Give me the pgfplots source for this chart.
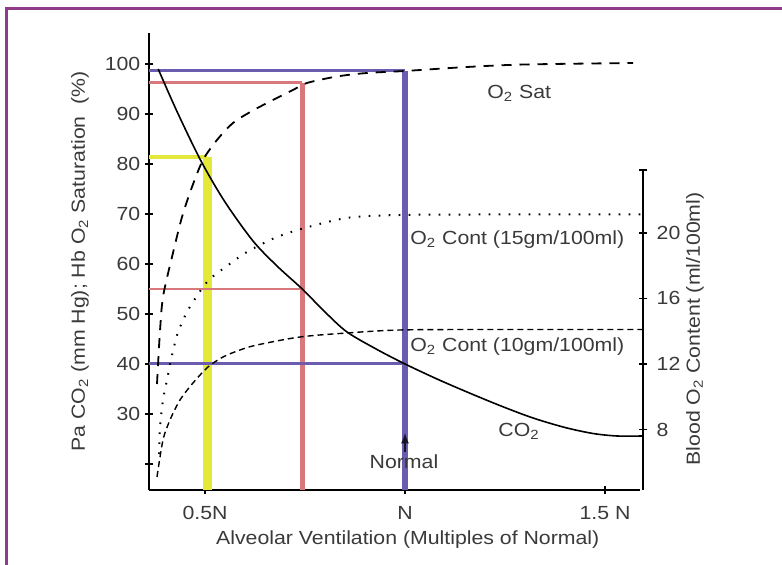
\documentclass[border=0pt]{standalone}
\usepackage{fontspec}
\setmainfont{Liberation Sans}[FakeStretch=1.12]
\usepackage{pgfplots}
\pgfplotsset{compat=1.18}
\definecolor{framec}{HTML}{8E3B8C}
\definecolor{ylw}{HTML}{E4E83A}
\definecolor{rd}{HTML}{D8777C}
\definecolor{pur}{HTML}{6B5CB0}
\definecolor{txt}{HTML}{3A3A3A}
\begin{document}
\fontsize{9.5}{11}\selectfont
\begin{tikzpicture}
\useasboundingbox (0,0) rectangle (391pt,282.5pt);
\draw[framec, line width=1.5pt] (3pt,-1pt) -- (3pt,278pt) -- (392pt,278pt);
\begin{axis}[
  scale only axis, width=245.5pt, height=228.5pt,
  at={(74.5pt,37.5pt)}, anchor=south west,
  xmin=0.36, xmax=1.5875, ymin=14.8, ymax=106.2,
  axis x line*=bottom, axis y line*=left,
  axis line style={line width=1.4pt,-},
  tick align=center, major tick length=4pt,
  tick style={line width=0.8pt, black},
  xtick={0.5,1,1.5}, xticklabels={0.5N,N,1.5 N},
  ytick={20,30,40,50,60,70,80,90,100}, yticklabels={,30,40,50,60,70,80,90,100},
  xticklabel style={text=txt, yshift=-3pt},
  yticklabel style={text=txt, xshift=1pt},
  xlabel={Alveolar Ventilation (Multiples of Normal)},
  ylabel={Pa CO\textsubscript{2} (mm Hg); Hb O\textsubscript{2} Saturation\ \ (\%)},
  every axis x label/.style={at={(axis description cs:0.527,-0.109)}, anchor=center, text=txt},
  every axis y label/.style={at={(axis description cs:-0.1405,0.5)}, rotate=90, anchor=center, text=txt},
  clip=false,
]
% yellow
\addplot[ylw, line width=4.5pt] coordinates {(0.505,14.8) (0.505,81.4)};
\addplot[ylw, line width=2pt] coordinates {(0.36,81.4) (0.505,81.4)};
% red
\addplot[rd, line width=2.6pt] coordinates {(0.743,14.8) (0.743,96.2)};
\addplot[rd, line width=1.5pt] coordinates {(0.36,96.2) (0.743,96.2)};
\addplot[rd, line width=0.9pt] coordinates {(0.36,55) (0.743,55)};
% purple
\addplot[pur, line width=3pt] coordinates {(1.0,14.8) (1.0,98.6)};
\addplot[pur, line width=1.5pt] coordinates {(0.36,98.6) (1.0,98.6)};
\addplot[pur, line width=1.5pt] coordinates {(0.36,40) (1.0,40)};
% CO2
\addplot[black, line width=0.8pt, smooth, tension=0.5] coordinates {
 (0.383,99) (0.43,90.5) (0.49,80.6) (0.55,72.4) (0.62,64.6) (0.68,59.6) (0.743,55)
 (0.8,50.4) (0.855,46.4) (0.93,42.9) (1.0,40) (1.08,37) (1.155,34.4) (1.24,31.6)
 (1.32,29.2) (1.4,27.3) (1.47,26.1) (1.53,25.6) (1.595,25.6)};
% O2 Sat
\addplot[black, line width=0.9pt, dash pattern=on 5pt off 4pt, smooth, tension=0.5] coordinates {
 (0.38,36) (0.387,46) (0.395,53.4) (0.4175,61.4) (0.4425,69.4) (0.4675,75.4) (0.495,80.8)
 (0.53,84.8) (0.57,88.2) (0.6175,90.6) (0.67,92.8) (0.72,94.8) (0.755,96.2) (0.83,97.5)
 (0.905,98.2) (1.0,98.6) (1.155,99.4) (1.3,99.9) (1.57,100.2)};
% O2 Cont 15
\addplot[black, line width=1pt, dash pattern=on 0.8pt off 4.2pt, smooth, tension=0.5] coordinates {
 (0.385,22) (0.3875,27.4) (0.395,32.8) (0.405,36.8) (0.4175,41.8) (0.4325,46.4) (0.445,48.6) (0.4575,50.8)
 (0.505,56.4) (0.555,59.6) (0.605,62.4) (0.68,65.4) (0.7625,67.5) (0.8625,69.3) (0.9875,69.8) (1.2,69.9) (1.595,69.9)};
% O2 Cont 10
\addplot[black, line width=0.7pt, dash pattern=on 3pt off 2pt, smooth, tension=0.5] coordinates {
 (0.38,17.4) (0.395,24.8) (0.4125,28.8) (0.4375,32.8) (0.47,36.2) (0.5075,39.4) (0.545,41.4) (0.5875,42.8)
 (0.63,43.8) (0.7375,45.4) (0.855,46.2) (0.9875,46.8) (1.2,46.9) (1.595,46.9)};
% labels
\node[text=txt, anchor=west, inner xsep=0pt] at (axis cs:1.205,94.2) {O\textsubscript{2} Sat};
\node[text=txt, anchor=west, inner xsep=0pt] at (axis cs:1.0125,64.8) {O\textsubscript{2} Cont (15gm/100ml)};
\node[text=txt, anchor=west, inner xsep=0pt] at (axis cs:1.0125,43.4) {O\textsubscript{2} Cont (10gm/100ml)};
\node[text=txt] at (axis cs:1.285,26.6) {CO\textsubscript{2}};
\node[text=txt] at (axis cs:0.9975,20.4) {Normal};
\draw[-latex, line width=0.8pt, black!80!pur] (axis cs:1.0,22.3) -- (axis cs:1.0,26.2);
\end{axis}
\begin{axis}[
  scale only axis, width=247pt, height=160pt,
  at={(74.5pt,37.5pt)}, anchor=south west,
  xmin=0, xmax=1, ymin=4.317, ymax=23.83,
  axis x line=none, axis y line*=right,
  axis line style={line width=1.4pt,-},
  tick align=center, major tick length=4pt,
  tick style={line width=0.8pt, black},
  ytick={8,12,16,20}, yticklabels={8,12,16,20},
  extra y ticks={23.83}, extra y tick labels={},
  yticklabel style={text=txt, xshift=1.5pt},
  ylabel={Blood O\textsubscript{2} Content (ml/100ml)},
  every axis y label/.style={at={(axis description cs:1.105,0.503)}, rotate=90, anchor=center, text=txt},
]
\addplot[draw=none] coordinates {(0.5,10)};
\end{axis}
\end{tikzpicture}
\end{document}
